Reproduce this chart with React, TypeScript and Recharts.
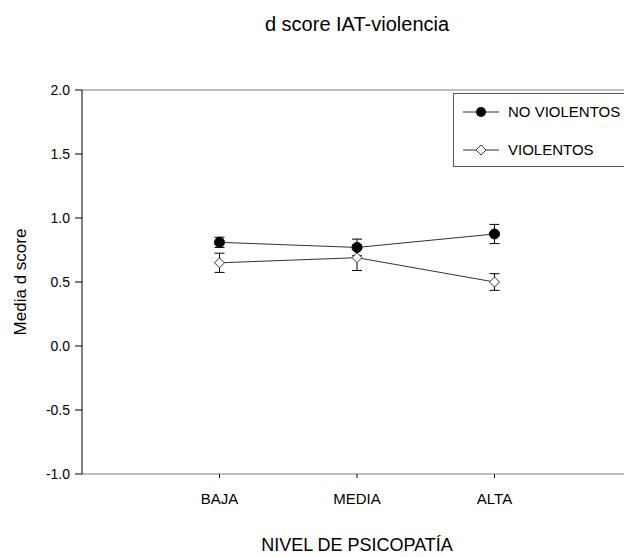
import React from "react"
import {
  LineChart,
  Line,
  XAxis,
  YAxis,
  ErrorBar,
  ReferenceLine,
  Legend,
} from "recharts"

const categories = ["BAJA", "MEDIA", "ALTA"]
const noViolentos = [0.81, 0.77, 0.875]
const noViolentosErr = [0.04, 0.065, 0.075]
const violentos = [0.65, 0.69, 0.5]
const violentosErr = [0.075, 0.1, 0.065]
const yTicks = [-1, -0.5, 0, 0.5, 1, 1.5, 2]
const xTicks = [1, 2, 3]

const data = categories.map((name, i) => ({
  pos: i + 1,
  name,
  nv: noViolentos[i],
  nvErr: noViolentosErr[i],
  v: violentos[i],
  vErr: violentosErr[i],
}))

const font = "'Liberation Sans', Arial, sans-serif"

const CircleDot = (props: any) => {
  const { cx, cy, index } = props
  if (cx == null || cy == null) return null
  return <circle key={`c-${index}`} cx={cx} cy={cy} r={5} fill="#000" stroke="#000" />
}

const DiamondDot = (props: any) => {
  const { cx, cy, index } = props
  if (cx == null || cy == null) return null
  const s = 5
  return (
    <path
      key={`d-${index}`}
      d={`M${cx},${cy - s} L${cx + s},${cy} L${cx},${cy + s} L${cx - s},${cy} Z`}
      fill="#fff"
      stroke="#333"
      strokeWidth={1}
    />
  )
}

const LegendBox = () => (
  <div
    style={{
      position: "relative",
      border: "1px solid #555",
      background: "#fff",
      width: 200,
      height: 74,
      fontFamily: font,
      fontSize: 15,
      color: "#000",
      boxSizing: "border-box",
    }}
  >
    {[
      { label: "NO VIOLENTOS", filled: true },
      { label: "VIOLENTOS", filled: false },
    ].map((item, i) => (
      <div
        key={item.label}
        style={{
          position: "absolute",
          left: 9,
          top: i === 0 ? 9 : 47,
          display: "flex",
          alignItems: "center",
          whiteSpace: "nowrap",
        }}
      >
        <svg width={36} height={16} style={{ marginRight: 9 }}>
          <line x1={0} y1={8} x2={36} y2={8} stroke="#333" strokeWidth={1} />
          {item.filled ? (
            <circle cx={18} cy={8} r={5} fill="#000" />
          ) : (
            <path d="M18,3 L23,8 L18,13 L13,8 Z" fill="#fff" stroke="#333" />
          )}
        </svg>
        <span>{item.label}</span>
      </div>
    ))}
  </div>
)

export default function App() {
  return (
    <div
      style={{
        position: "fixed",
        left: 0,
        top: 0,
        width: 624,
        height: 557,
        overflow: "hidden",
        background: "#fff",
      }}
    >
      <div
        style={{
          position: "absolute",
          left: 82,
          width: 550,
          top: 13,
          textAlign: "center",
          fontFamily: font,
          fontSize: 20,
          color: "#000",
          zIndex: 2,
        }}
      >
        d score IAT-violencia
      </div>
      <LineChart
        width={640}
        height={557}
        data={data}
        margin={{ top: 90, right: 8, left: 0, bottom: 0 }}
      >
        <XAxis
          type="number"
          dataKey="pos"
          domain={[0, 4]}
          ticks={xTicks}
          tickFormatter={(v) => categories[v - 1]}
          height={83}
          stroke="#808080"
          tickSize={4}
          tickMargin={15}
          tick={{ fill: "#000", fontSize: 15, fontFamily: font }}
          tickLine={{ stroke: "#000" }}
          label={{
            value: "NIVEL DE PSICOPATÍA",
            position: "insideBottom",
            offset: 6,
            style: { fill: "#000", fontSize: 18, fontFamily: font },
          }}
        />
        <YAxis
          type="number"
          domain={[-1, 2]}
          ticks={yTicks}
          width={82}
          stroke="#000"
          tickSize={7}
          tickMargin={5}
          tickFormatter={(v) => v.toFixed(1)}
          tick={{ fill: "#000", fontSize: 14, fontFamily: font }}
          label={{
            value: "Media d score",
            angle: -90,
            position: "insideLeft",
            offset: 20,
            style: { textAnchor: "middle", fill: "#000", fontSize: 17, fontFamily: font },
          }}
        />
        <ReferenceLine y={2} stroke="#808080" strokeWidth={1} />
        <Line
          dataKey="nv"
          name="NO VIOLENTOS"
          stroke="#333"
          strokeWidth={1}
          dot={CircleDot}
          activeDot={false}
          isAnimationActive={false}
        >
          <ErrorBar dataKey="nvErr" width={5} stroke="#000" strokeWidth={1} direction="y" />
        </Line>
        <Line
          dataKey="v"
          name="VIOLENTOS"
          stroke="#333"
          strokeWidth={1}
          dot={DiamondDot}
          activeDot={false}
          isAnimationActive={false}
        >
          <ErrorBar dataKey="vErr" width={5} stroke="#000" strokeWidth={1} direction="y" />
        </Line>
        <Legend
          layout="vertical"
          align="center"
          verticalAlign="middle"
          content={() => <LegendBox />}
          wrapperStyle={{ position: "absolute", left: 453, top: 93, width: 200, height: 74 }}
        />
      </LineChart>
    </div>
  )
}
